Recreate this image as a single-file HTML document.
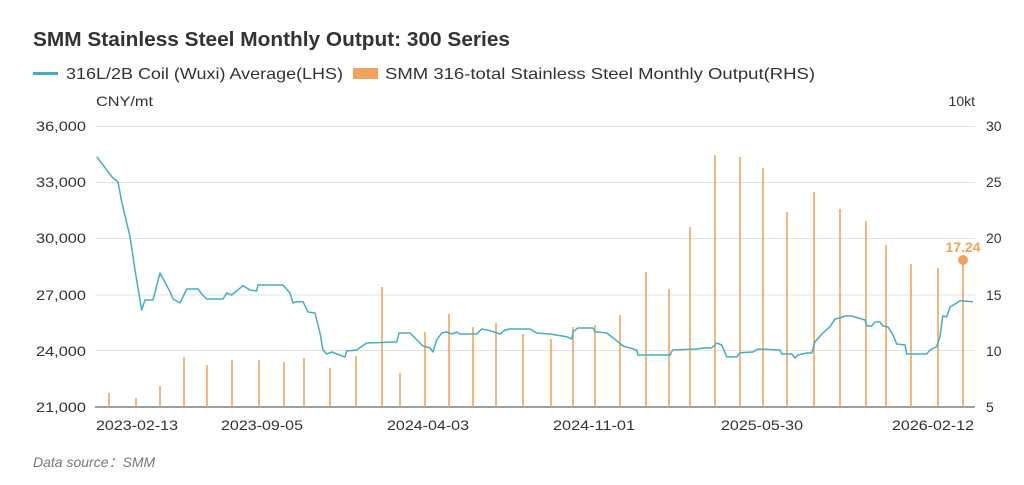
<!DOCTYPE html>
<html><head><meta charset="utf-8"><style>
body{margin:0;background:#fff;width:1024px;height:480px;overflow:hidden;font-family:"Liberation Sans",sans-serif}
</style></head><body>
<svg width="1024" height="480" xmlns="http://www.w3.org/2000/svg" font-family="Liberation Sans, sans-serif">
<text x="33" y="46" font-size="20" font-weight="bold" fill="#333" textLength="477" lengthAdjust="spacingAndGlyphs">SMM Stainless Steel Monthly Output: 300 Series</text>
<rect x="33" y="72" width="25" height="3" fill="#45aebf"/>
<text x="66" y="79" font-size="16" fill="#333" textLength="277" lengthAdjust="spacingAndGlyphs">316L/2B Coil (Wuxi) Average(LHS)</text>
<rect x="353" y="68" width="25" height="11" fill="#f0a35e"/>
<text x="385" y="79" font-size="16" fill="#333" textLength="430" lengthAdjust="spacingAndGlyphs">SMM 316-total Stainless Steel Monthly Output(RHS)</text>
<text x="96" y="106" font-size="14" fill="#333" textLength="57" lengthAdjust="spacingAndGlyphs">CNY/mt</text>
<text x="975" y="106" font-size="14" fill="#333" text-anchor="end">10kt</text>
<g stroke="#e3e3e3" stroke-width="1">
<line x1="95" x2="975" y1="126.5" y2="126.5"/><line x1="95" x2="975" y1="182.5" y2="182.5"/>
<line x1="95" x2="975" y1="238.5" y2="238.5"/><line x1="95" x2="975" y1="295" y2="295"/>
<line x1="95" x2="975" y1="350.5" y2="350.5"/></g>
<line x1="95" x2="975" y1="407" y2="407" stroke="#666" stroke-width="1.2"/>
<g font-size="14" fill="#333">
<text x="36" y="131" textLength="50" lengthAdjust="spacingAndGlyphs">36,000</text><text x="36" y="187" textLength="50" lengthAdjust="spacingAndGlyphs">33,000</text><text x="36" y="243" textLength="50" lengthAdjust="spacingAndGlyphs">30,000</text>
<text x="36" y="300" textLength="50" lengthAdjust="spacingAndGlyphs">27,000</text><text x="36" y="356" textLength="50" lengthAdjust="spacingAndGlyphs">24,000</text><text x="36" y="412" textLength="50" lengthAdjust="spacingAndGlyphs">21,000</text></g>
<g font-size="14" fill="#333">
<text x="986" y="131">30</text><text x="986" y="187">25</text><text x="986" y="243">20</text>
<text x="986" y="300">15</text><text x="986" y="356">10</text><text x="986" y="412">5</text></g>
<g font-size="14" fill="#333">
<text x="96" y="430" textLength="82" lengthAdjust="spacingAndGlyphs">2023-02-13</text><text x="221" y="430" textLength="82" lengthAdjust="spacingAndGlyphs">2023-09-05</text><text x="387" y="430" textLength="82" lengthAdjust="spacingAndGlyphs">2024-04-03</text>
<text x="553" y="430" textLength="82" lengthAdjust="spacingAndGlyphs">2024-11-01</text><text x="721" y="430" textLength="82" lengthAdjust="spacingAndGlyphs">2025-05-30</text><text x="892" y="430" textLength="82" lengthAdjust="spacingAndGlyphs">2026-02-12</text></g>
<text x="33" y="467" font-size="14" font-style="italic" fill="#777">Data source：SMM</text>
<g stroke="#f0a35e" stroke-width="1.6">
<line x1="109" x2="109" y1="407" y2="393"/><line x1="136" x2="136" y1="407" y2="398"/>
<line x1="160" x2="160" y1="407" y2="386"/><line x1="184" x2="184" y1="407" y2="357"/>
<line x1="207" x2="207" y1="407" y2="365"/><line x1="232" x2="232" y1="407" y2="360"/>
<line x1="259" x2="259" y1="407" y2="360"/><line x1="284" x2="284" y1="407" y2="362"/>
<line x1="304" x2="304" y1="407" y2="358"/><line x1="330" x2="330" y1="407" y2="368"/>
<line x1="356" x2="356" y1="407" y2="356"/><line x1="382" x2="382" y1="407" y2="287"/>
<line x1="400" x2="400" y1="407" y2="373"/><line x1="425" x2="425" y1="407" y2="332"/>
<line x1="449" x2="449" y1="407" y2="314"/><line x1="473" x2="473" y1="407" y2="327"/>
<line x1="496" x2="496" y1="407" y2="323"/><line x1="523" x2="523" y1="407" y2="334"/>
<line x1="551" x2="551" y1="407" y2="339"/><line x1="573" x2="573" y1="407" y2="327"/>
<line x1="595" x2="595" y1="407" y2="325"/><line x1="620" x2="620" y1="407" y2="315"/>
<line x1="646" x2="646" y1="407" y2="272"/><line x1="669" x2="669" y1="407" y2="289"/>
<line x1="690" x2="690" y1="407" y2="227"/><line x1="715" x2="715" y1="407" y2="155"/>
<line x1="740" x2="740" y1="407" y2="157"/><line x1="763" x2="763" y1="407" y2="168"/>
<line x1="787" x2="787" y1="407" y2="212"/><line x1="814" x2="814" y1="407" y2="192"/>
<line x1="840" x2="840" y1="407" y2="209"/><line x1="866" x2="866" y1="407" y2="221"/>
<line x1="886" x2="886" y1="407" y2="245"/><line x1="911" x2="911" y1="407" y2="264"/>
<line x1="938" x2="938" y1="407" y2="268"/><line x1="963" x2="963" y1="407" y2="262"/>
</g>
<circle cx="963" cy="260" r="5" fill="#f0a35e"/>
<text x="963" y="252" font-size="14" font-weight="bold" fill="#f0a35e" text-anchor="middle">17.24</text>
<polyline fill="none" stroke="#45aebf" stroke-width="1.5" stroke-linejoin="round" points="
96.7,156.7 103,165 111.7,176.7 118,182 121.7,201.7 130,236.7 135,270 141.7,310 145,300 153,300 160,273 170,291.7 173,299 180,303 186.7,289 198,289 201.7,294 206.7,299 223,299 226.7,293 231.7,295 243,285.7 250,290 256.7,291 258,285 283,285 290,293 293,303 296.7,301.7 303,301.7 308,312 315,313 320,333 323,350 326.7,354 331.7,352 345,357 346.7,351 356.7,350 366.7,343 396.7,342 399,333 410,333 415,338 423,346 430,348 433,352 436.7,340 441.7,333 446.7,332 451.7,334 456.7,332 460,334 476.7,334 481.7,329 490,330.7 500,334 505,330 510,329 530,329 536.7,333 550,334 566.7,336.7 571.7,339 573,331.7 578,328 593,328 595,331.7 606.7,333 618,341.7 623,346 636.7,350 638,355 670,355 672.7,350 696.7,349 703,348 711.7,348 716.7,343 721.7,345 726.7,356.7 736.7,357 740,352.7 753,352 758,349 780,350 781.7,354 791.7,354 795,358 798,355 806.7,353 811.7,353 815,341.7 823,333 830,326.7 835,319 840,318 845,316 851.7,316 865,320 866.7,326 871.7,326 875,322 880,322 883,326 888,327 893,335 896.7,344 905,345 906.7,354 926.7,354 930,350 936.7,346.7 940,336.7 942.7,316 946.7,316.7 950,307 956.7,303 960,300.7 973,301.7"/>
</svg>
</body></html>
